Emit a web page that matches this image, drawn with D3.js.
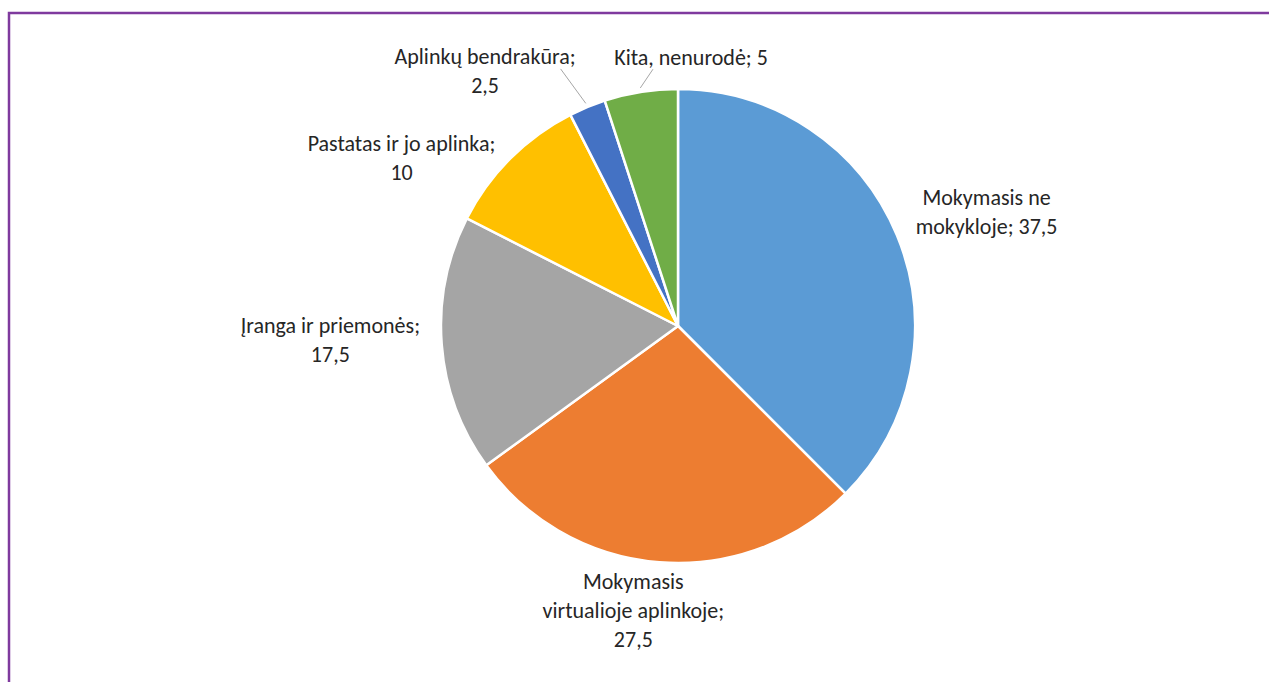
<!DOCTYPE html>
<html lang="lt">
<head>
    <meta charset="UTF-8">
    <script src="https://cdn.jsdelivr.net/npm/d3@7"></script>
    <title>Pie chart</title>
    <style>
        html, body {
            margin: 0px;
            padding: 0px;
            background-color: #ffffff;
            font-family: Carlito, Lato, "Open Sans", sans-serif;
        }
        #chart {
            width: 1269px;
            height: 682px;
        }
    </style>
</head>
<body>
    <div id="chart"></div>
    <script>
        let categories = ['Mokymasis ne mokykloje', 'Mokymasis virtualioje aplinkoje', 'Įranga ir priemonės',
            'Pastatas ir jo aplinka', 'Aplinkų bendrakūra', 'Kita, nenurodė'];
        let values = [37.5, 27.5, 17.5, 10, 2.5, 5];
        let label_lines = [
            ['Mokymasis ne', 'mokykloje; 37,5'],
            ['Mokymasis', 'virtualioje aplinkoje;', '27,5'],
            ['Įranga ir priemonės;', '17,5'],
            ['Pastatas ir jo aplinka;', '10'],
            ['Aplinkų bendrakūra;', '2,5'],
            ['Kita, nenurodė; 5']
        ];
        let colours = ['#5B9BD5', '#ED7D31', '#A5A5A5', '#FFC000', '#4472C4', '#70AD47'];
        let with_leader = [false, false, false, false, true, true];

        let width = 1269, height = 682;
        let cx = 678, cy = 326, radius = 237;
        let font_size = 22;
        let line_h = 29;
        let gap = 12;
        // small hand nudges so labels sit where Excel put them
        let nudge = [[13, -9], [-18, -4], [-10, -8], [-34, 26], [-63, -1], [64, -12]];

        let svg = d3.select('#chart').append('svg').attr('width', width).attr('height', height);

        svg.append('rect')
            .attr('x', 9).attr('y', 13)
            .attr('width', width + 20).attr('height', height + 20)
            .attr('fill', 'none')
            .attr('stroke', '#7F3A9E')
            .attr('stroke-width', 2.5);

        let pie = d3.pie().sort(null).value(d => d.value);
        let arcs = pie(categories.map((c, i) => ({ name: c, value: values[i], i: i })));
        let arc = d3.arc().innerRadius(0).outerRadius(radius);

        let g = svg.append('g').attr('transform', `translate(${cx},${cy})`);

        g.selectAll('path')
            .data(arcs)
            .join('path')
            .attr('d', arc)
            .attr('fill', d => colours[d.data.i])
            .attr('stroke', '#ffffff')
            .attr('stroke-width', 2.5)
            .attr('stroke-linejoin', 'round');

        arcs.forEach(d => {
            let i = d.data.i;
            let mid = (d.startAngle + d.endAngle) / 2;
            let s = Math.sin(mid), c = -Math.cos(mid);
            let lines = label_lines[i];
            let n = lines.length;

            let t = g.append('text')
                .attr('text-anchor', 'middle')
                .attr('font-size', font_size + 'px')
                .attr('fill', '#262626');
            lines.forEach((ln, k) => {
                t.append('tspan')
                    .attr('x', 0)
                    .attr('y', (k - (n - 1) / 2) * line_h)
                    .attr('dominant-baseline', 'central')
                    .text(ln);
            });
            let w = t.node().getBBox().width;
            let h = (n - 1) * line_h + font_size;
            let px = s * (radius + gap) + s * w / 2 + nudge[i][0];
            let py = c * (radius + gap) + c * h / 2 + nudge[i][1];
            t.attr('transform', `translate(${px},${py})`);

            if (with_leader[i]) {
                let x0 = s * (radius + 4), y0 = c * (radius + 4);
                let y1 = py - (n - 1) / 2 * line_h + 12;
                let x1 = x0 + (px - x0) * 0.25;
                g.append('line')
                    .attr('x1', x0).attr('y1', y0)
                    .attr('x2', x1).attr('y2', y1)
                    .attr('stroke', '#A6A6A6')
                    .attr('stroke-width', 1);
            }
        });
    </script>
</body>
</html>
